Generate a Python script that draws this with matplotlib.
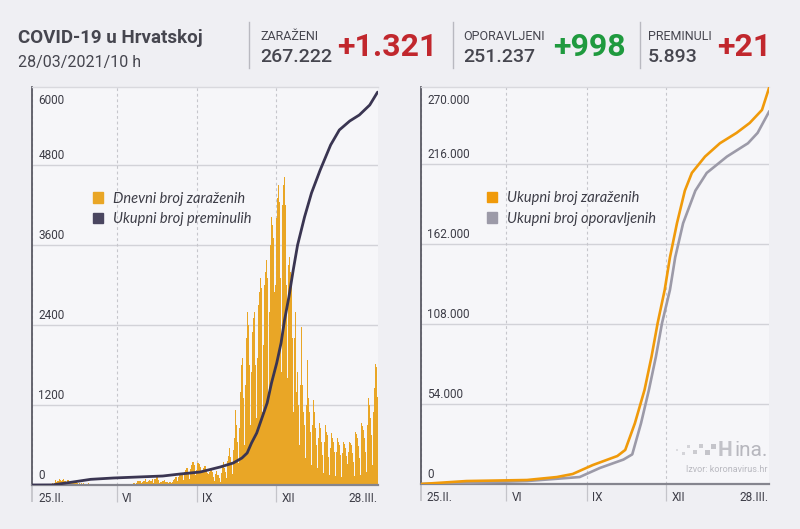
import matplotlib
matplotlib.use('Agg')
import matplotlib.pyplot as plt
import matplotlib.transforms as mtrans
from matplotlib.patches import Patch, Rectangle
import pandas as pd

# ---- data ----
start = pd.Timestamp('2020-02-25')
end = pd.Timestamp('2021-03-28')

# daily new cases, one row per week (Tue .. Mon)
daily_cases = [
    1, 2, 0, 0, 0, 1, 1,
    2, 1, 0, 1, 0, 0, 3,
    3, 2, 5, 8, 7, 11, 7,
    7, 16, 24, 20, 34, 78, 81,
    52, 56, 53, 96, 71, 56, 77,
    77, 96, 67, 58, 47, 68, 79,
    64, 45, 51, 60, 54, 23, 34,
    44, 27, 41, 29, 18, 30, 21,
    26, 20, 22, 32, 13, 15, 8,
    21, 26, 14, 15, 7, 11, 3,
    10, 6, 8, 6, 4, 1, 2,
    3, 7, 2, 1, 2, 1, 1,
    0, 3, 0, 1, 2, 0, 0,
    0, 1, 0, 1, 0, 0, 0,
    2, 1, 0, 1, 2, 0, 0,
    1, 0, 2, 1, 0, 3, 0,
    3, 7, 16, 13, 31, 23, 23,
    22, 36, 59, 62, 67, 53, 29,
    51, 52, 61, 63, 95, 52, 44,
    54, 65, 70, 55, 61, 93, 34,
    87, 77, 93, 118, 140, 69, 35,
    41, 48, 60, 55, 53, 73, 40,
    47, 45, 47, 35, 52, 51, 27,
    42, 71, 85, 105, 122, 114, 53,
    123, 180, 178, 180, 180, 146, 81,
    192, 219, 252, 262, 265, 169, 96,
    245, 302, 339, 341, 300, 286, 144,
    219, 330, 335, 314, 277, 200, 124,
    209, 253, 282, 286, 232, 181, 82,
    163, 197, 203, 231, 198, 117, 61,
    132, 169, 206, 152, 157, 99, 51,
    180, 250, 300, 340, 260, 190, 100,
    363, 361, 440, 550, 420, 300, 160,
    520, 700, 900, 1125, 900, 650, 330,
    850, 1400, 1800, 2280, 1900, 1300, 600,
    1500, 2200, 2600, 2745, 2400, 1800, 900,
    1700, 2300, 2500, 2600, 2450, 1800, 1000,
    1900, 2700, 2900, 3100, 2950, 2100, 1100,
    2100, 3000, 3200, 3375, 3100, 2400, 1300,
    2600, 3600, 4020, 3900, 3700, 2900, 1500,
    3000, 4000, 4300, 4500, 4250, 3100, 1700,
    3200, 4200, 4500, 4620, 4200, 3000, 1600,
    2700, 3300, 3420, 3200, 3000, 2200, 1100,
    2200, 2730, 2600, 1400, 1700, 1200, 600,
    1500, 1900, 2370, 1500, 1100, 900, 400,
    1200, 1875, 1500, 1300, 1100, 800, 300,
    900, 1275, 1100, 1000, 850, 600, 250,
    700, 930, 850, 800, 650, 450, 180,
    650, 900, 800, 750, 600, 420, 150,
    550, 780, 700, 650, 500, 380, 130,
    500, 700, 650, 600, 450, 330, 120,
    480, 650, 620, 560, 430, 320, 120,
    500, 650, 630, 600, 480, 350, 130,
    600, 800, 760, 700, 580, 400, 150,
    700, 930, 880, 820, 700, 500, 200,
    900, 1425, 1300, 1200, 1000, 750, 300,
    1100, 1450, 1875, 1814, 1770, 1321,
]
case_days = pd.date_range(start, periods=len(daily_cases), freq='D')

# cumulative deaths
death_dates = ['2020-02-25', '2020-03-19', '2020-04-09', '2020-05-02', '2020-05-28',
               '2020-07-24', '2020-08-13', '2020-09-05', '2020-09-28', '2020-10-13',
               '2020-10-23', '2020-10-29', '2020-11-03', '2020-11-09', '2020-11-15',
               '2020-11-21', '2020-11-26', '2020-12-02', '2020-12-07', '2020-12-11',
               '2020-12-16', '2020-12-21', '2020-12-26', '2021-01-03', '2021-01-11',
               '2021-01-21', '2021-02-02', '2021-02-12', '2021-02-24', '2021-03-07',
               '2021-03-19', '2021-03-28']
death_total = [0, 1, 40, 85, 105, 135, 165, 195, 270, 330,
               405, 480, 630, 780, 1005, 1230, 1530, 1830, 2130, 2475,
               2820, 3225, 3600, 4020, 4380, 4725, 5100, 5325, 5460, 5550,
               5700, 5893]

# cumulative infected
inf_dates = ['2020-02-25', '2020-04-17', '2020-06-25', '2020-07-29', '2020-08-16',
             '2020-09-08', '2020-10-06', '2020-10-15', '2020-10-26', '2020-11-06',
             '2020-11-14', '2020-11-21', '2020-11-29', '2020-12-05', '2020-12-13',
             '2020-12-22', '2020-12-30', '2021-01-14', '2021-01-31', '2021-02-19',
             '2021-03-06', '2021-03-20', '2021-03-28']
inf_total = [0, 2000, 2700, 4700, 6750, 12800, 18900, 23000, 41000, 63500,
             86000, 108700, 131000, 153000, 176000, 198000, 210000, 221000, 230000,
             237000, 243700, 252500, 267222]

# cumulative recovered
rec_dates = ['2020-02-25', '2020-04-17', '2020-06-25', '2020-08-24', '2020-09-16',
             '2020-10-13', '2020-10-23', '2020-11-02', '2020-11-11', '2020-11-19',
             '2020-11-26', '2020-12-05', '2020-12-11', '2020-12-20', '2021-01-03',
             '2021-01-16', '2021-02-08', '2021-03-04', '2021-03-15', '2021-03-28']
rec_total = [0, 800, 2000, 4700, 10800, 16500, 20000, 41000, 63500, 86000,
             108700, 131000, 153000, 176000, 198000, 210000, 221000, 230000, 237000,
             251237]

left_ticks = [0, 1200, 2400, 3600, 4800, 6000]
left_labels = ['0', '1200', '2400', '3600', '4800', '6000']
right_ticks = [0, 54000, 108000, 162000, 216000, 270000]
right_labels = ['0', '54.000', '108.000', '162.000', '216.000', '270.000']
month_ticks = ['2020-06-01', '2020-09-01', '2020-12-01']
month_labels = ['VI', 'IX', 'XII']

# ---- style ----
BG = '#efeff3'
PANEL = '#f6f6f9'
ORANGE_BAR = '#e9a626'
ORANGE = '#f09a0a'
NAVY = '#3a3552'
GREYLINE = '#9c9aa8'
TXT = '#3d3d47'
HEAD = '#46464f'
SANS = ['Roboto', 'DejaVu Sans']
ITAL = ['Lato', 'DejaVu Sans']

fig = plt.figure(figsize=(8, 5.29), dpi=100, facecolor=BG)


def px(x, y):
    return x / 800, 1 - y / 529


def setup(ax, ticks, labels, xlim, ytop):
    ax.set_facecolor(PANEL)
    ax.set_xlim(*xlim)
    ax.set_ylim(0, ytop)
    ax.spines['right'].set_visible(False)
    ax.spines['top'].set_color('#d9d9de')
    ax.spines['top'].set_linewidth(1)
    ax.spines['left'].set_color('#5a5a64')
    ax.spines['left'].set_linewidth(1.3)
    ax.spines['bottom'].set_color('#85858e')
    ax.spines['bottom'].set_linewidth(1.6)
    ax.set_yticks([])
    for t in ticks[1:-1]:
        ax.axhline(t, color='#d2d2d8', lw=1, zorder=0)
    tr = mtrans.blended_transform_factory(ax.transAxes, ax.transData)
    up = mtrans.offset_copy(tr, fig=fig, x=0, y=2.5, units='points')
    dn = mtrans.offset_copy(tr, fig=fig, x=0, y=-5, units='points')
    for t, l in zip(ticks[:-1], labels[:-1]):
        ax.text(0.018, t, l, transform=up, ha='left', va='bottom',
                fontsize=8.5, color=TXT, family=SANS)
    ax.text(0.018, ytop, labels[-1], transform=dn, ha='left', va='top',
            fontsize=8.5, color=TXT, family=SANS)
    # x axis
    mt = [start] + [pd.Timestamp(m) for m in month_ticks]
    ax.set_xticks(mt)
    ax.set_xticklabels([])
    ax.tick_params(axis='x', length=12, width=0.9, color='#c4c4ca', direction='out')
    ax.xaxis.get_major_ticks()[0].tick1line.set_color('#5a5a64')
    ax.xaxis.get_major_ticks()[0].tick1line.set_markeredgewidth(1.3)
    ax.xaxis.grid(True, linestyle=(0, (2.5, 2.5)), color='#c6c6cc', lw=0.8)
    ax.set_axisbelow(True)
    trx = mtrans.blended_transform_factory(ax.transData, ax.transAxes)
    lab = mtrans.offset_copy(trx, fig=fig, x=4, y=-10, units='points')
    for m, l in zip(mt, ['25.II.'] + month_labels):
        ax.text(m, 0, l, transform=lab, ha='left', va='center', fontsize=8.5,
                color=TXT, family=SANS)
    lab2 = mtrans.offset_copy(trx, fig=fig, x=0, y=-10, units='points')
    ax.text(xlim[1], 0, '28.III.', transform=lab2, ha='right', va='center',
            fontsize=8.5, color=TXT, family=SANS)


def legend(ax, handles, names, xa):
    ax.legend(handles, names, loc='upper left', bbox_to_anchor=(xa, 0.77),
              frameon=False, handlelength=0.7, handleheight=0.7,
              handletextpad=0.65, labelspacing=0.42,
              prop={'family': ITAL, 'style': 'italic', 'size': 10.5},
              labelcolor=TXT)


# ---- left: daily infected + total deaths ----
ax1 = fig.add_axes([32 / 800, 44 / 529, 346 / 800, 398 / 529])
setup(ax1, left_ticks, left_labels,
      (start - pd.Timedelta(hours=12), end + pd.Timedelta(hours=12)), 5970)
ax1.bar(case_days, daily_cases, width=1.0, color=ORANGE_BAR, linewidth=0, zorder=2)
ax1.plot(pd.to_datetime(death_dates), death_total, color=NAVY, lw=2.0, zorder=3,
         solid_capstyle='round', solid_joinstyle='round')
legend(ax1, [Patch(color=ORANGE_BAR), Patch(color='#4a4660')],
       ['Dnevni broj zaraženih', 'Ukupni broj preminulih'], 0.138)

# ---- right: total infected + total recovered ----
ax2 = fig.add_axes([421 / 800, 45 / 529, 348 / 800, 397 / 529])
setup(ax2, right_ticks, right_labels, (start, end), 267975)
ax2.plot(pd.to_datetime(rec_dates), rec_total, color=GREYLINE, lw=1.9, zorder=3,
         solid_joinstyle='round')
ax2.plot(pd.to_datetime(inf_dates), inf_total, color=ORANGE, lw=1.9, zorder=4,
         solid_joinstyle='round')
legend(ax2, [Patch(color=ORANGE), Patch(color=GREYLINE)],
       ['Ukupni broj zaraženih', 'Ukupni broj oporavljenih'], 0.152)

# ---- header ----
fig.text(*px(18, 38), 'COVID-19 u Hrvatskoj', fontsize=13.5, fontweight='bold',
         color=HEAD, family=SANS, va='center')
fig.text(*px(18, 62), '28/03/2021/10 h', fontsize=11.5, color=HEAD,
         family=SANS, va='center')
for xs in [249, 453, 640]:
    fig.add_artist(plt.Line2D([xs / 800, xs / 800], [1 - 22 / 529, 1 - 68 / 529],
                              color='#b9b9c0', lw=1))
heads = [(260, 'ZARAŽENI', '267.222', 438, '+1.321', '#c1272d'),
         (463, 'OPORAVLJENI', '251.237', 626, '+998', '#1f9a3e'),
         (648, 'PREMINULI', '5.893', 771, '+21', '#c1272d')]
for x0, lab, tot, xd, delta, col in heads:
    fig.text(*px(x0, 36), lab, fontsize=9, color=HEAD, family=SANS, va='center')
    fig.text(*px(x0, 57), tot, fontsize=14, color=HEAD, family=SANS,
             fontweight='medium', va='center')
    fig.text(*px(xd, 47), delta, fontsize=23, color=col, family=SANS,
             fontweight='bold', va='center', ha='right')

# ---- source logo ----
for (lx, ly, s, c) in [(676, 449, 2, '#dcdce0'), (682, 452, 3, '#d4d4d9'),
                       (687, 445, 3, '#d4d4d9'), (693, 450, 4, '#cbcbd0'),
                       (699, 444, 4, '#cbcbd0'), (705, 450, 5, '#c4c4ca'),
                       (711, 444, 5, '#c4c4ca')]:
    fig.add_artist(Rectangle(px(lx, ly + s), s / 800, s / 529, color=c, lw=0))
fig.text(*px(718, 451), 'H', fontsize=15, color='#c2c2c8', family=SANS,
         fontweight='bold', va='center')
fig.text(*px(735, 451), 'ina.', fontsize=15, color='#b7b7be', family=SANS,
         va='center')
fig.text(*px(768, 470), 'Izvor: koronavirus.hr', fontsize=6.5, color='#b9b9c0',
         family=SANS, va='center', ha='right')

fig.savefig('out.png', dpi=100, facecolor=BG)
